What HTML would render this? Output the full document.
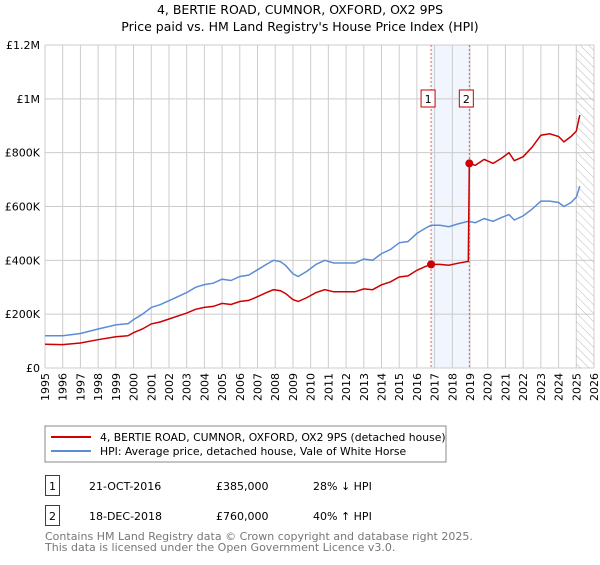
<!DOCTYPE html>
<html><head><meta charset="utf-8"><style>
body{margin:0;background:#fff;font-family:"Liberation Sans","DejaVu Sans",sans-serif;}
svg text{font-family:"DejaVu Sans","Liberation Sans",sans-serif;}
</style></head><body>
<svg id="c" width="600" height="560" xmlns="http://www.w3.org/2000/svg">
<defs><pattern id="hatch" width="6" height="6" patternUnits="userSpaceOnUse" patternTransform="rotate(-45)"><line x1="0" y1="0" x2="0" y2="6" stroke="#bbb" stroke-width="1"/></pattern></defs>
<text x="300" y="14" text-anchor="middle" font-size="12.5" fill="#000">4, BERTIE ROAD, CUMNOR, OXFORD, OX2 9PS</text>
<text x="300" y="31" text-anchor="middle" font-size="12.5" fill="#000">Price paid vs. HM Land Registry's House Price Index (HPI)</text>
<g id="grid"></g><g id="marks"></g><g id="axes"></g>
<rect x="45" y="426" width="401" height="36" fill="#fff" stroke="#888"/>
<line x1="51" y1="437" x2="91" y2="437" stroke="#cc0000" stroke-width="2"/>
<text x="100" y="441" font-size="10.8">4, BERTIE ROAD, CUMNOR, OXFORD, OX2 9PS (detached house)</text>
<line x1="51" y1="451" x2="91" y2="451" stroke="#5b8dd6" stroke-width="2"/>
<text x="100" y="455" font-size="10.8">HPI: Average price, detached house, Vale of White Horse</text>
<rect x="45.5" y="475.5" width="14" height="20" fill="none" stroke="#cc0000"/>
<text x="52.5" y="490" text-anchor="middle" font-size="11">1</text>
<text x="89" y="490" font-size="11">21-OCT-2016</text>
<text x="216" y="490" font-size="11">£385,000</text>
<text x="313" y="490" font-size="11">28% ↓ HPI</text>
<rect x="45.5" y="505.5" width="14" height="20" fill="none" stroke="#cc0000"/>
<text x="52.5" y="520" text-anchor="middle" font-size="11">2</text>
<text x="89" y="520" font-size="11">18-DEC-2018</text>
<text x="216" y="520" font-size="11">£760,000</text>
<text x="313" y="520" font-size="11">40% ↑ HPI</text>
<text x="45" y="540" font-size="11" fill="#777">Contains HM Land Registry data © Crown copyright and database right 2025.</text>
<text x="45" y="551" font-size="11" fill="#777">This data is licensed under the Open Government Licence v3.0.</text>
</svg>
<script>
const hpiYears=[1995,1996,1997,1998,1999,1999.7,2000,2000.5,2001,2001.5,2002,2003,2003.5,2004,2004.5,2005,2005.5,2006,2006.5,2007,2007.5,2007.9,2008.3,2008.6,2009,2009.3,2009.8,2010.3,2010.8,2011.3,2011.8,2012.5,2013,2013.5,2014,2014.5,2015,2015.5,2016,2016.5,2016.8,2017.3,2017.8,2018.3,2018.9,2019.3,2019.8,2020.3,2020.8,2021.2,2021.5,2022,2022.5,2023,2023.5,2024,2024.3,2024.7,2025,2025.2];
const hpiValues=[120,120,128,145,160,165,180,200,225,235,250,280,300,310,315,330,325,340,345,365,385,400,395,380,350,340,360,385,400,390,390,390,405,400,425,440,465,470,500,520,530,530,525,535,545,540,555,545,560,570,550,565,590,620,620,615,600,615,635,675];
const ppYears=[1995,1996,1997,1998,1999,1999.7,2000,2000.5,2001,2001.5,2002,2003,2003.5,2004,2004.5,2005,2005.5,2006,2006.5,2007,2007.5,2007.9,2008.3,2008.6,2009,2009.3,2009.8,2010.3,2010.8,2011.3,2011.8,2012.5,2013,2013.5,2014,2014.5,2015,2015.5,2016,2016.5,2016.8,2017.3,2017.8,2018.3,2018.9,2018.96,2019.3,2019.8,2020.3,2020.8,2021.2,2021.5,2022,2022.5,2023,2023.5,2024,2024.3,2024.7,2025,2025.2];
const ppValues=[88,87,93,105,116,120,131,145,164,171,182,204,218,225,229,240,236,247,251,265,280,291,287,276,254,247,262,280,291,283,283,283,294,291,309,320,338,342,363,378,385,385,382,389,396,760,753,775,760,780,800,770,785,820,865,870,860,840,860,880,940];
const saleYears=[2016.8,2018.96];
const saleValues=[385,760];
const saleLabels=["1","2"];
const yTicks=[0,200,400,600,800,1000,1200];
const yTickLabels=["£0","£200K","£400K","£600K","£800K","£1M","£1.2M"];
const xStart=1995,xEnd=2026;
const X0=45,X1=594,Y0=368,Y1=45;
const xs=y=>X0+(y-xStart)/(xEnd-xStart)*(X1-X0);
const ys=v=>Y0-v/1200*(Y0-Y1);
const NS="http://www.w3.org/2000/svg";
function mk(t,a,p){const e=document.createElementNS(NS,t);for(const k in a)e.setAttribute(k,a[k]);p.appendChild(e);return e;}
const grid=document.getElementById('grid'),marks=document.getElementById('marks'),axes=document.getElementById('axes');
mk('rect',{x:X0,y:Y1,width:X1-X0,height:Y0-Y1,fill:'#fff'},grid);
const sh=mk('rect',{x:xs(saleYears[0]),y:Y1,width:xs(saleYears[1])-xs(saleYears[0]),height:Y0-Y1,fill:'#f1f5fd'},grid);


for(let y=xStart;y<=xEnd;y++){
 const l=mk('line',{x1:xs(y),x2:xs(y),y1:Y1,y2:Y0,stroke:'#ccc'},grid);
 
 
 const t=mk('text',{x:0,y:0,'font-size':11,'text-anchor':'end',transform:`translate(${xs(y)+4},${Y0+5}) rotate(-90)`},axes);
 t.textContent=y;
 
 
}
yTicks.forEach((v,i)=>{
 const l=mk('line',{x1:X0,x2:X1,y1:ys(v),y2:ys(v),stroke:'#ccc'},grid);
 
 
 const t=mk('text',{x:X0-5,y:ys(v)+4,'font-size':11,'text-anchor':'end'},axes);
 t.textContent=yTickLabels[i];
 
 
});
const ht=mk('rect',{x:xs(2025),y:Y1,width:X1-xs(2025),height:Y0-Y1,fill:'url(#hatch)'},grid);


saleYears.forEach((y,i)=>{
 const l=mk('line',{x1:xs(y),x2:xs(y),y1:Y1,y2:Y0,stroke:'#e06060','stroke-dasharray':'2,2'},grid);
 
 
 const r=mk('rect',{x:xs(y)-10,y:90,width:14,height:17,fill:'#fff',stroke:'#cc0000'},marks);
 
 
 const t=mk('text',{x:xs(y)-3,y:103,'font-size':11,'text-anchor':'middle'},marks);
 t.textContent=saleLabels[i];
});
function path(xa,va,col,name){
 const d=xa.map((y,i)=>(i?'L':'M')+xs(y).toFixed(1)+','+ys(va[i]).toFixed(1)).join('');
 const p=mk('path',{d:d,fill:'none',stroke:col,'stroke-width':1.5},marks);
 
 
}
path(hpiYears,hpiValues,'#5b8dd6','hpi-line');
path(ppYears,ppValues,'#cc0000','price-paid-line');
saleYears.forEach((y,i)=>{
 const c=mk('circle',{cx:xs(y),cy:ys(saleValues[i]),r:4,fill:'#cc0000'},marks);
 
 
});
</script>
</body></html>
